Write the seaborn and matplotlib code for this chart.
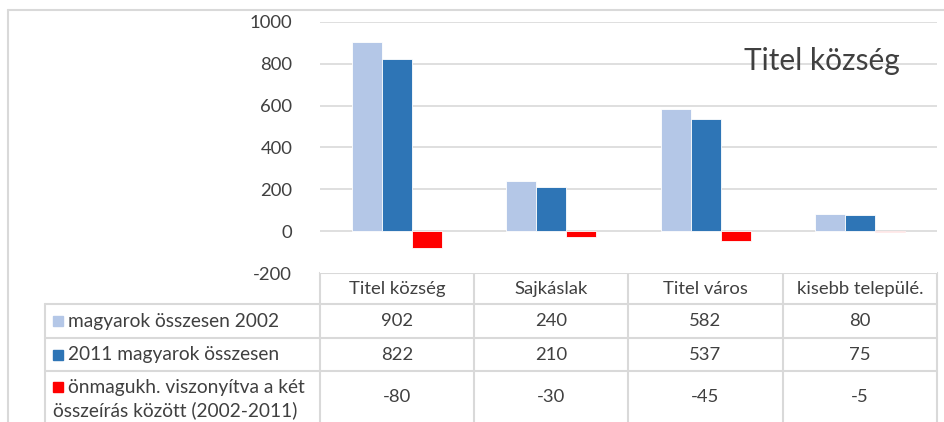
import matplotlib
matplotlib.use("Agg")
import matplotlib.pyplot as plt
import seaborn as sns
import pandas as pd
from matplotlib.patches import Rectangle

categories = ["Titel község", "Sajkáslak", "Titel város", "kisebb településekk"]
table_labels = ["Titel község", "Sajkáslak", "Titel város", "kisebb települé."]
series_names = ["magyarok összesen 2002", "2011 magyarok összesen",
                "önmagukh. viszonyítva a két\nösszeírás között (2002-2011)"]
vals_2002 = [902, 240, 582, 80]
vals_2011 = [822, 210, 537, 75]
vals_diff = [-80, -30, -45, -5]
colors = ["#B4C7E7", "#2E75B6", "#FF0000"]
yticks = [-200, 0, 200, 400, 600, 800, 1000]
title = "Titel község"

sns.set_theme(style="white")
plt.rcParams["font.family"] = ["Lato", "DejaVu Sans"]
TXT = "#404040"
GRID = "#D9D9D9"
FS = 13.3
FT = 13.8

rows = []
for name, vals in zip(series_names, [vals_2002, vals_2011, vals_diff]):
    for c, v in zip(categories, vals):
        rows.append({"cat": c, "series": name, "value": v})
df = pd.DataFrame(rows)

W, H = 944, 422
fig = plt.figure(figsize=(W / 100, H / 100), dpi=100)

# overlay in pixel coords for frame and table
ov = fig.add_axes([0, 0, 1, 1])
ov.set_xlim(0, W)
ov.set_ylim(H, 0)
ov.axis("off")

L, R, T, B = 320, 937, 22, 273
ax = fig.add_axes([L / W, 1 - B / H, (R - L) / W, (B - T) / H])
sns.barplot(data=df, x="cat", y="value", hue="series", order=categories,
            hue_order=series_names, palette=colors, width=0.585, ax=ax,
            saturation=1, edgecolor="white", linewidth=0.6, legend=False, zorder=3)
ax.set_ylim(-200, 1000)
ax.set_xlim(-0.5, len(categories) - 0.5)
ax.set_yticks(yticks)
ax.set_yticklabels([str(t) for t in yticks], fontsize=FS, color=TXT)
ax.tick_params(axis="y", length=0, pad=20)
ax.set_xticks([])
ax.set_xlabel("")
ax.set_ylabel("")
for s in ax.spines.values():
    s.set_visible(False)
for t in yticks:
    if t > -200:
        ax.axhline(t, color=GRID, lw=1.2, zorder=1)
ax.text(0.94, 0.845, title, transform=ax.transAxes, ha="right", va="center",
        fontsize=21.5, color=TXT)

# chart frame
ov.plot([8, W + 5], [10, 10], color=GRID, lw=1.5)
ov.plot([8, 8], [10, H + 5], color=GRID, lw=1.5)

# data table
cols = [320, 474, 628, 783, 937]
rlines = [273, 304, 338, 371]
tc = "#D9D9D9"
ov.plot([cols[0], cols[-1]], [273, 273], color=tc, lw=1.5)
for y in rlines[1:]:
    ov.plot([45, cols[-1]], [y, y], color=tc, lw=1.5)
for x in cols:
    ov.plot([x, x], [273, H + 5], color=tc, lw=1.5)
ov.plot([45, 45], [304, H + 5], color=tc, lw=1.5)

for i, lab in enumerate(table_labels):
    cx = (cols[i] + cols[i + 1]) / 2
    ov.text(cx, 289, lab, ha="center", va="center", fontsize=FS, color=TXT)

row_centers = [321, 354.5, 397]
for r, (name, vals, col) in enumerate(zip(series_names, [vals_2002, vals_2011, vals_diff], colors)):
    yc = row_centers[r]
    for i, v in enumerate(vals):
        cx = (cols[i] + cols[i + 1]) / 2
        ov.text(cx, yc, str(v), ha="center", va="center", fontsize=FS, color=TXT)
    lines = name.split("\n")
    if len(lines) == 1:
        ov.add_patch(Rectangle((53, yc - 5), 10, 10, color=col))
        ov.text(68, yc, name, ha="left", va="center", fontsize=FT, color=TXT)
    else:
        ov.add_patch(Rectangle((53, yc - 15), 10, 10, color=col))
        ov.text(68, yc - 10, lines[0], ha="left", va="center", fontsize=FT, color=TXT)
        ov.text(53, yc + 13, lines[1], ha="left", va="center", fontsize=FT, color=TXT)

fig.savefig("out.png", dpi=100)
